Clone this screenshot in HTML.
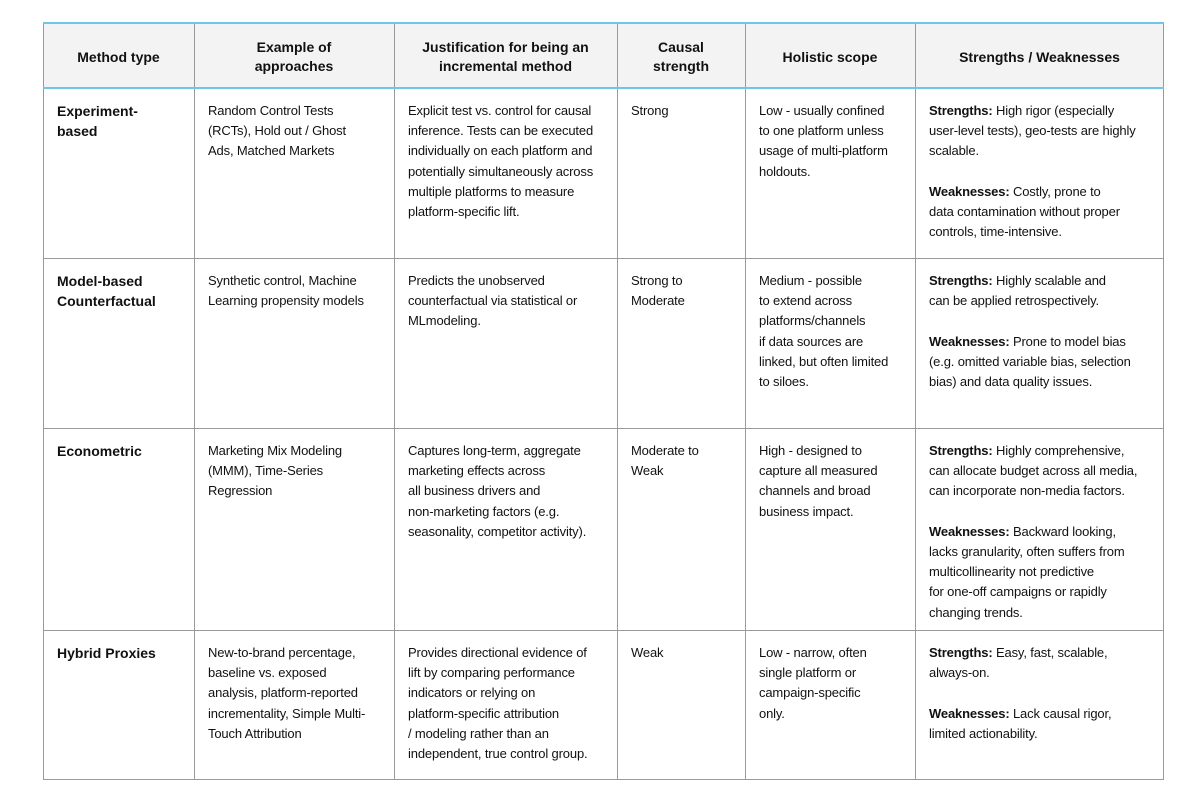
<!DOCTYPE html>
<html><head><meta charset="utf-8"><style>
html,body{margin:0;padding:0;background:#fff;width:1200px;height:795px;overflow:hidden}
body{font-family:"Liberation Sans",sans-serif;color:#111}
.c{position:absolute;box-sizing:border-box;padding:13px 4px 0 14px;font-size:13px;line-height:20.2px;white-space:nowrap;letter-spacing:-0.15px}
.h{position:absolute;box-sizing:border-box;display:flex;align-items:center;justify-content:center;text-align:center;font-weight:bold;font-size:14px;line-height:19px;background:#f3f3f3;padding-top:4px}
.v{position:absolute;top:22px;width:1px;height:758px;background:#9a9a9a}
.r{position:absolute;left:43px;width:1121px;height:1px;background:#9a9a9a}
b{font-weight:bold}
.f{font-weight:bold;font-size:14px;letter-spacing:0}
</style></head><body>
<div class="h" style="left:43px;top:22px;width:151px;height:66px">Method type</div>
<div class="h" style="left:194px;top:22px;width:200px;height:66px">Example of<br>approaches</div>
<div class="h" style="left:394px;top:22px;width:223px;height:66px">Justification for being an<br>incremental method</div>
<div class="h" style="left:617px;top:22px;width:128px;height:66px">Causal<br>strength</div>
<div class="h" style="left:745px;top:22px;width:170px;height:66px">Holistic scope</div>
<div class="h" style="left:915px;top:22px;width:249px;height:66px">Strengths / Weaknesses</div>

<div class="c f" style="left:43px;top:88px;width:151px">Experiment-<br>based</div>
<div class="c" style="left:194px;top:88px;width:200px">Random Control Tests<br>(RCTs), Hold out / Ghost<br>Ads, Matched Markets</div>
<div class="c" style="left:394px;top:88px;width:223px">Explicit test vs. control for causal<br>inference. Tests can be executed<br>individually on each platform and<br>potentially simultaneously across<br>multiple platforms to measure<br>platform-specific lift.</div>
<div class="c" style="left:617px;top:88px;width:128px">Strong</div>
<div class="c" style="left:745px;top:88px;width:170px">Low - usually confined<br>to one platform unless<br>usage of multi-platform<br>holdouts.</div>
<div class="c" style="left:915px;top:88px;width:249px"><b>Strengths:</b> High rigor (especially<br>user-level tests), geo-tests are highly<br>scalable.<br><br><b>Weaknesses:</b> Costly, prone to<br>data contamination without proper<br>controls, time-intensive.</div>

<div class="c f" style="left:43px;top:258px;width:151px">Model-based<br>Counterfactual</div>
<div class="c" style="left:194px;top:258px;width:200px">Synthetic control, Machine<br>Learning propensity models</div>
<div class="c" style="left:394px;top:258px;width:223px">Predicts the unobserved<br>counterfactual via statistical or<br>MLmodeling.</div>
<div class="c" style="left:617px;top:258px;width:128px">Strong to<br>Moderate</div>
<div class="c" style="left:745px;top:258px;width:170px">Medium - possible<br>to extend across<br>platforms/channels<br>if data sources are<br>linked, but often limited<br>to siloes.</div>
<div class="c" style="left:915px;top:258px;width:249px"><b>Strengths:</b> Highly scalable and<br>can be applied retrospectively.<br><br><b>Weaknesses:</b> Prone to model bias<br>(e.g. omitted variable bias, selection<br>bias) and data quality issues.</div>

<div class="c f" style="left:43px;top:428px;width:151px">Econometric</div>
<div class="c" style="left:194px;top:428px;width:200px">Marketing Mix Modeling<br>(MMM), Time-Series<br>Regression</div>
<div class="c" style="left:394px;top:428px;width:223px">Captures long-term, aggregate<br>marketing effects across<br>all business drivers and<br>non-marketing factors (e.g.<br>seasonality, competitor activity).</div>
<div class="c" style="left:617px;top:428px;width:128px">Moderate to<br>Weak</div>
<div class="c" style="left:745px;top:428px;width:170px">High - designed to<br>capture all measured<br>channels and broad<br>business impact.</div>
<div class="c" style="left:915px;top:428px;width:249px"><b>Strengths:</b> Highly comprehensive,<br>can allocate budget across all media,<br>can incorporate non-media factors.<br><br><b>Weaknesses:</b> Backward looking,<br>lacks granularity, often suffers from<br>multicollinearity not predictive<br>for one-off campaigns or rapidly<br>changing trends.</div>

<div class="c f" style="left:43px;top:630px;width:151px">Hybrid Proxies</div>
<div class="c" style="left:194px;top:630px;width:200px">New-to-brand percentage,<br>baseline vs. exposed<br>analysis, platform-reported<br>incrementality, Simple Multi-<br>Touch Attribution</div>
<div class="c" style="left:394px;top:630px;width:223px">Provides directional evidence of<br>lift by comparing performance<br>indicators or relying on<br>platform-specific attribution<br>/ modeling rather than an<br>independent, true control group.</div>
<div class="c" style="left:617px;top:630px;width:128px">Weak</div>
<div class="c" style="left:745px;top:630px;width:170px">Low - narrow, often<br>single platform or<br>campaign-specific<br>only.</div>
<div class="c" style="left:915px;top:630px;width:249px"><b>Strengths:</b> Easy, fast, scalable,<br>always-on.<br><br><b>Weaknesses:</b> Lack causal rigor,<br>limited actionability.</div>

<div class="v" style="left:43px"></div>
<div class="v" style="left:194px"></div>
<div class="v" style="left:394px"></div>
<div class="v" style="left:617px"></div>
<div class="v" style="left:745px"></div>
<div class="v" style="left:915px"></div>
<div class="v" style="left:1163px"></div>
<div class="r" style="top:22px;height:2px;background:#6ec6ea"></div>
<div class="r" style="top:87px;height:2px;background:#6ec6ea"></div>
<div class="r" style="top:258px"></div>
<div class="r" style="top:428px"></div>
<div class="r" style="top:630px"></div>
<div class="r" style="top:779px"></div>
</body></html>
